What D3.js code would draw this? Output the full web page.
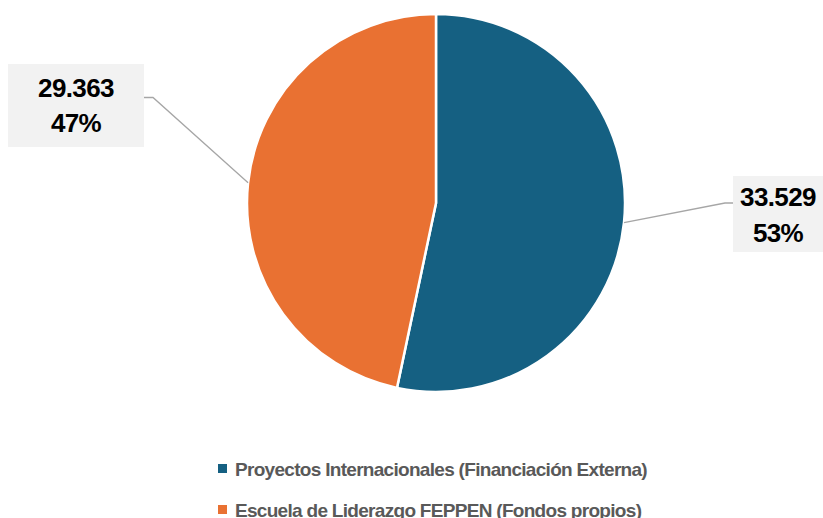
<!DOCTYPE html>
<html>
<head>
<meta charset="utf-8">
<script src="https://cdn.jsdelivr.net/npm/d3@7"></script>
<style>
  body { margin: 0; background: #fff; }
  svg { display: block; font-family: "Liberation Sans", Arial, sans-serif; }
</style>
</head>
<body>
<script>
// Datos
const categorias = ["Proyectos Internacionales (Financiación Externa)", "Escuela de Liderazgo FEPPEN (Fondos propios)"];
const valores = [33529, 29363];
const etiquetasValor = ["33.529", "29.363"];
const etiquetasPct = ["53%", "47%"];
const colores = ["#156082", "#E97132"];

const w = 823;
const h = 518;
const cx = 436;
const cy = 203;
const radio = 189;

const svg = d3.select("body").append("svg")
    .attr("width", w)
    .attr("height", h);

const pie = d3.pie().sort(null).value(d => d);
const arcos = pie(valores);
const arc = d3.arc().innerRadius(0).outerRadius(radio);

const g = svg.append("g").attr("transform", `translate(${cx},${cy})`);

g.selectAll("path")
    .data(arcos)
    .enter()
    .append("path")
    .attr("d", arc)
    .attr("fill", (d, i) => colores[i])
    .attr("stroke", "#fff")
    .attr("stroke-width", 2.5);

// Cajas de etiquetas
const cajas = [
    { x: 733, y: 176, w: 90, h: 76, ang: 1.675, codo: [725, 203], borde: [733, 203], b1: 206, b2: 242 },
    { x: 8, y: 64, w: 136, h: 83, ang: 4.82, codo: [153, 97.5], borde: [144, 97.5], b1: 97, b2: 132 }
];

arcos.forEach((d, i) => {
    const c = cajas[i];
    const px = cx + radio * Math.sin(c.ang);
    const py = cy - radio * Math.cos(c.ang);
    svg.append("polyline")
        .attr("points", `${px},${py} ${c.codo[0]},${c.codo[1]} ${c.borde[0]},${c.borde[1]}`)
        .attr("fill", "none")
        .attr("stroke", "#A6A6A6")
        .attr("stroke-width", 1.3);

    svg.append("rect")
        .attr("x", c.x).attr("y", c.y)
        .attr("width", c.w).attr("height", c.h)
        .attr("fill", "#F2F2F2");

    const t = svg.append("text")
        .attr("text-anchor", "middle")
        .attr("font-size", "26px")
        .attr("font-weight", "bold")
        .attr("letter-spacing", "-0.6px")
        .attr("fill", "#000");
    const mx = c.x + c.w / 2;
    t.append("tspan").attr("x", mx).attr("y", c.b1).text(etiquetasValor[i]);
    t.append("tspan").attr("x", mx).attr("y", c.b2).text(etiquetasPct[i]);
});

// Leyenda
const leyenda = svg.append("g");
categorias.forEach((c, i) => {
    const base = 476 + i * 41;
    leyenda.append("rect")
        .attr("x", 218).attr("y", base - 12)
        .attr("width", 9).attr("height", 9)
        .attr("fill", colores[i]);
    leyenda.append("text")
        .attr("x", 235).attr("y", base)
        .attr("font-size", "19px")
        .attr("font-weight", "bold")
        .attr("letter-spacing", "-0.7px")
        .attr("fill", "#595959")
        .text(c);
});
</script>
</body>
</html>
